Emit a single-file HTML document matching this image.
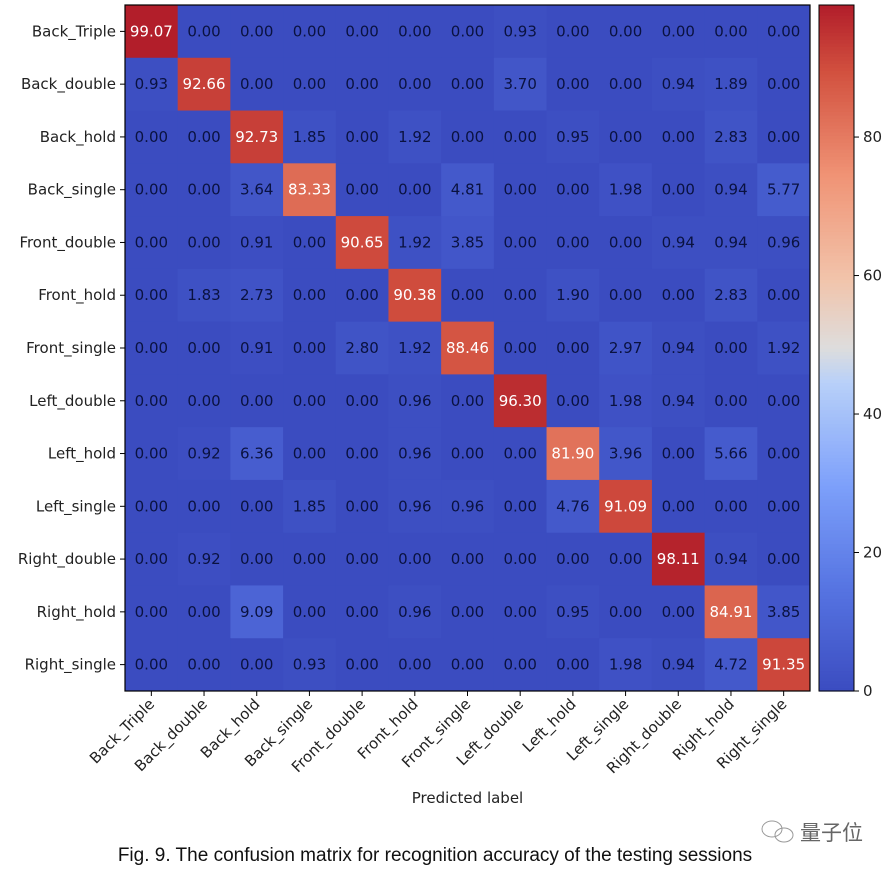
<!DOCTYPE html>
<html><head><meta charset="utf-8"><style>
body{margin:0;background:#fff;}
svg text{font-family:"DejaVu Sans","Liberation Sans",sans-serif;}
</style></head><body>
<svg id="c" width="896" height="872" xmlns="http://www.w3.org/2000/svg"></svg>
<script>
const labels=["Back_Triple","Back_double","Back_hold","Back_single","Front_double","Front_hold","Front_single","Left_double","Left_hold","Left_single","Right_double","Right_hold","Right_single"];
const matrix=[
[99.07,0,0,0,0,0,0,0.93,0,0,0,0,0],
[0.93,92.66,0,0,0,0,0,3.70,0,0,0.94,1.89,0],
[0,0,92.73,1.85,0,1.92,0,0,0.95,0,0,2.83,0],
[0,0,3.64,83.33,0,0,4.81,0,0,1.98,0,0.94,5.77],
[0,0,0.91,0,90.65,1.92,3.85,0,0,0,0.94,0.94,0.96],
[0,1.83,2.73,0,0,90.38,0,0,1.90,0,0,2.83,0],
[0,0,0.91,0,2.80,1.92,88.46,0,0,2.97,0.94,0,1.92],
[0,0,0,0,0,0.96,0,96.30,0,1.98,0.94,0,0],
[0,0.92,6.36,0,0,0.96,0,0,81.90,3.96,0,5.66,0],
[0,0,0,1.85,0,0.96,0.96,0,4.76,91.09,0,0,0],
[0,0.92,0,0,0,0,0,0,0,0,98.11,0.94,0],
[0,0,9.09,0,0,0.96,0,0,0.95,0,0,84.91,3.85],
[0,0,0,0.93,0,0,0,0,0,1.98,0.94,4.72,91.35]];
const cbTicks=[0,20,40,60,80];
const NS="http://www.w3.org/2000/svg",svg=document.getElementById('c');
function el(t,a,txt){const e=document.createElementNS(NS,t);for(const k in a)e.setAttribute(k,a[k]);if(txt!=null)e.textContent=txt;svg.appendChild(e);return e;}
const stops=[[0,59,76,192],[0.15,86,116,226],[0.3,125,160,250],[0.45,184,208,249],[0.5,221,221,221],[0.6,242,196,171],[0.75,240,148,118],[0.9,211,82,64],[1,178,30,42]];
function cmap(t){t=Math.max(0,Math.min(1,t));for(let i=1;i<stops.length;i++){if(t<=stops[i][0]){const a=stops[i-1],b=stops[i],f=(t-a[0])/(b[0]-a[0]);return `rgb(${[1,2,3].map(j=>Math.round(a[j]+f*(b[j]-a[j]))).join(',')})`;}}return 'rgb(178,30,42)';}
const L=125,T=5,R=810,B=691,n=labels.length,cw=(R-L)/n,ch=(B-T)/n,vmax=99.07;
const xs=i=>L+i*cw, ys=i=>T+i*ch;
matrix.forEach((row,r)=>row.forEach((v,c)=>{
 const cell=el('rect',{x:xs(c),y:ys(r),width:cw+0.5,height:ch+0.5,fill:cmap(v/vmax)});
 
 
 const t=el('text',{x:xs(c)+cw/2,y:ys(r)+ch/2+5,'text-anchor':'middle','font-size':15,fill:v>vmax/2?'#fff':'#0a1240'},v.toFixed(2));
 
 
}));
el('rect',{x:L,y:T,width:R-L,height:B-T,fill:'none',stroke:'#000','stroke-width':1.2});
labels.forEach((lb,i)=>{
 el('line',{x1:L-5,x2:L,y1:ys(i)+ch/2,y2:ys(i)+ch/2,stroke:'#000'});
 const t=el('text',{x:L-9,y:ys(i)+ch/2+5,'text-anchor':'end','font-size':15,fill:'#222'},lb);
 
 
 const x=xs(i)+cw/2;
 el('line',{x1:x,x2:x,y1:B,y2:B+5,stroke:'#000'});
 const u=el('text',{x:x+4,y:B+14,'text-anchor':'end','font-size':15,fill:'#222',transform:`rotate(-45 ${x+4} ${B+14})`},lb);
 
 
});
const xt=el('text',{x:(L+R)/2,y:803,'text-anchor':'middle','font-size':15,fill:'#222'},'Predicted label');

const CL=819,CR=854,cbT=T,cbB=B;
for(let i=0;i<200;i++){const y0=cbB-(i+1)*(cbB-cbT)/200;el('rect',{x:CL,y:y0,width:CR-CL,height:(cbB-cbT)/200+0.6,fill:cmap((i+0.5)/200)});}
el('rect',{x:CL,y:cbT,width:CR-CL,height:cbB-cbT,fill:'none',stroke:'#000'});
cbTicks.forEach(v=>{const y=cbB-v/vmax*(cbB-cbT);el('line',{x1:CR,x2:CR+5,y1:y,y2:y,stroke:'#000'});
 const t=el('text',{x:CR+9,y:y+5,'font-size':15,fill:'#222'},String(v));
 });
const cap=el('text',{x:435,y:861,'text-anchor':'middle','font-size':19,fill:'#111',style:'font-family:"Liberation Sans",sans-serif'},'Fig. 9.  The confusion matrix for recognition accuracy of the testing sessions');

el('ellipse',{cx:772,cy:829,rx:10,ry:8,fill:'none',stroke:'#999','stroke-width':1});
el('ellipse',{cx:784,cy:835,rx:9,ry:7,fill:'none',stroke:'#999','stroke-width':1});
const wm=el('text',{x:800,y:840,'font-size':21,fill:'#666',style:'font-family:"Noto Sans CJK SC",sans-serif'},'量子位');

</script>
</body></html>
